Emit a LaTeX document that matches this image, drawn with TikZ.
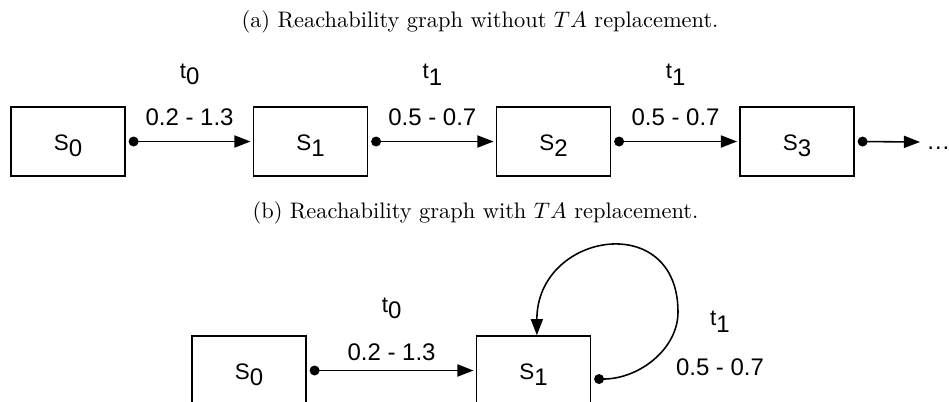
\documentclass[tikz,border=0pt]{standalone}
\usepackage{fontspec}
\usetikzlibrary{arrows.meta}
\newfontfamily\labelfont{Liberation Sans}
\newcommand{\sublab}[2]{{\fontsize{10}{12}\selectfont #1}\raisebox{-3pt}{#2}}

\begin{document}
\begin{tikzpicture}[x=0.446pt,y=-0.446pt,
  state/.style={draw,line width=0.7pt,minimum width=50.8pt,minimum height=30.8pt,inner sep=0pt,
    text height=10.8pt,text depth=3pt,font=\labelfont\fontsize{10.7}{13}\selectfont},
  trans/.style={line width=0.7pt,{Circle[length=4.4pt]}-{Triangle[length=7.2pt,width=5.4pt]}},
  tlabel/.style={inner sep=0pt,font=\labelfont\fontsize{10.7}{13}\selectfont},
  caption/.style={inner sep=0pt,font=\normalsize}]
\useasboundingbox (0,0) rectangle (949,401);
\clip (0,0) rectangle (949,401);
% (a) without TA replacement
\node[caption] (capa) at (480,22) {(a) Reachability graph without $TA$ replacement.};
\node[state] (s0) at (68,141.5) {\sublab{S}{0}};
\node[state] (s1) at (310.5,141.5) {\sublab{S}{1}};
\node[state] (s2) at (553.5,141.5) {\sublab{S}{2}};
\node[state] (s3) at (797,141.5) {\sublab{S}{3}};
\coordinate (enda) at (920,142);
\node[tlabel,anchor=base west] (more) at (926,149) {\ldots};
\draw[trans] ([xshift=1.3pt]s0.east) -- ([xshift=-1pt]s1.west)
  node[tlabel,midway,yshift=10.7pt] (ia0) {0.2 - 1.3}
  node[tlabel,midway,yshift=29.9pt] (ta0) {\sublab{t}{0}};
\draw[trans] ([xshift=1.3pt]s1.east) -- ([xshift=-1pt]s2.west)
  node[tlabel,midway,yshift=10.7pt] (ia1) {0.5 - 0.7}
  node[tlabel,midway,yshift=29.9pt] (ta1) {\sublab{t}{1}};
\draw[trans] ([xshift=1.3pt]s2.east) -- ([xshift=-1pt]s3.west)
  node[tlabel,midway,yshift=10.7pt] (ia2) {0.5 - 0.7}
  node[tlabel,midway,yshift=29.9pt] (ta2) {\sublab{t}{1}};
\draw[trans] ([xshift=1.3pt]s3.east) -- (enda);
% (b) with TA replacement
\node[caption] (capb) at (475.5,213) {(b) Reachability graph with $TA$ replacement.};
\node[state] (s0b) at (249,370.5) {\sublab{S}{0}};
\node[state] (s1b) at (533.5,370.5) {\sublab{S}{1}};
\coordinate (loopr) at (678,312);
\draw[trans] ([xshift=1.3pt]s0b.east) -- ([xshift=-1pt]s1b.west)
  node[tlabel,midway,yshift=8pt] (ib0) {0.2 - 1.3}
  node[tlabel,midway,yshift=27.7pt] (tb0) {\sublab{t}{0}};
\draw[trans] ([xshift=1.3pt,yshift=-3.8pt]s1b.east) .. controls +(45,0) and +(0,37) .. (loopr)
  .. controls +(0,-103) and +(0,-103) .. ([xshift=1.5pt]s1b.north);
\node[tlabel] (tb1) at (720,322) {\sublab{t}{1}};
\node[tlabel] (ib1) at (720,367) {0.5 - 0.7};
\end{tikzpicture}
\end{document}
